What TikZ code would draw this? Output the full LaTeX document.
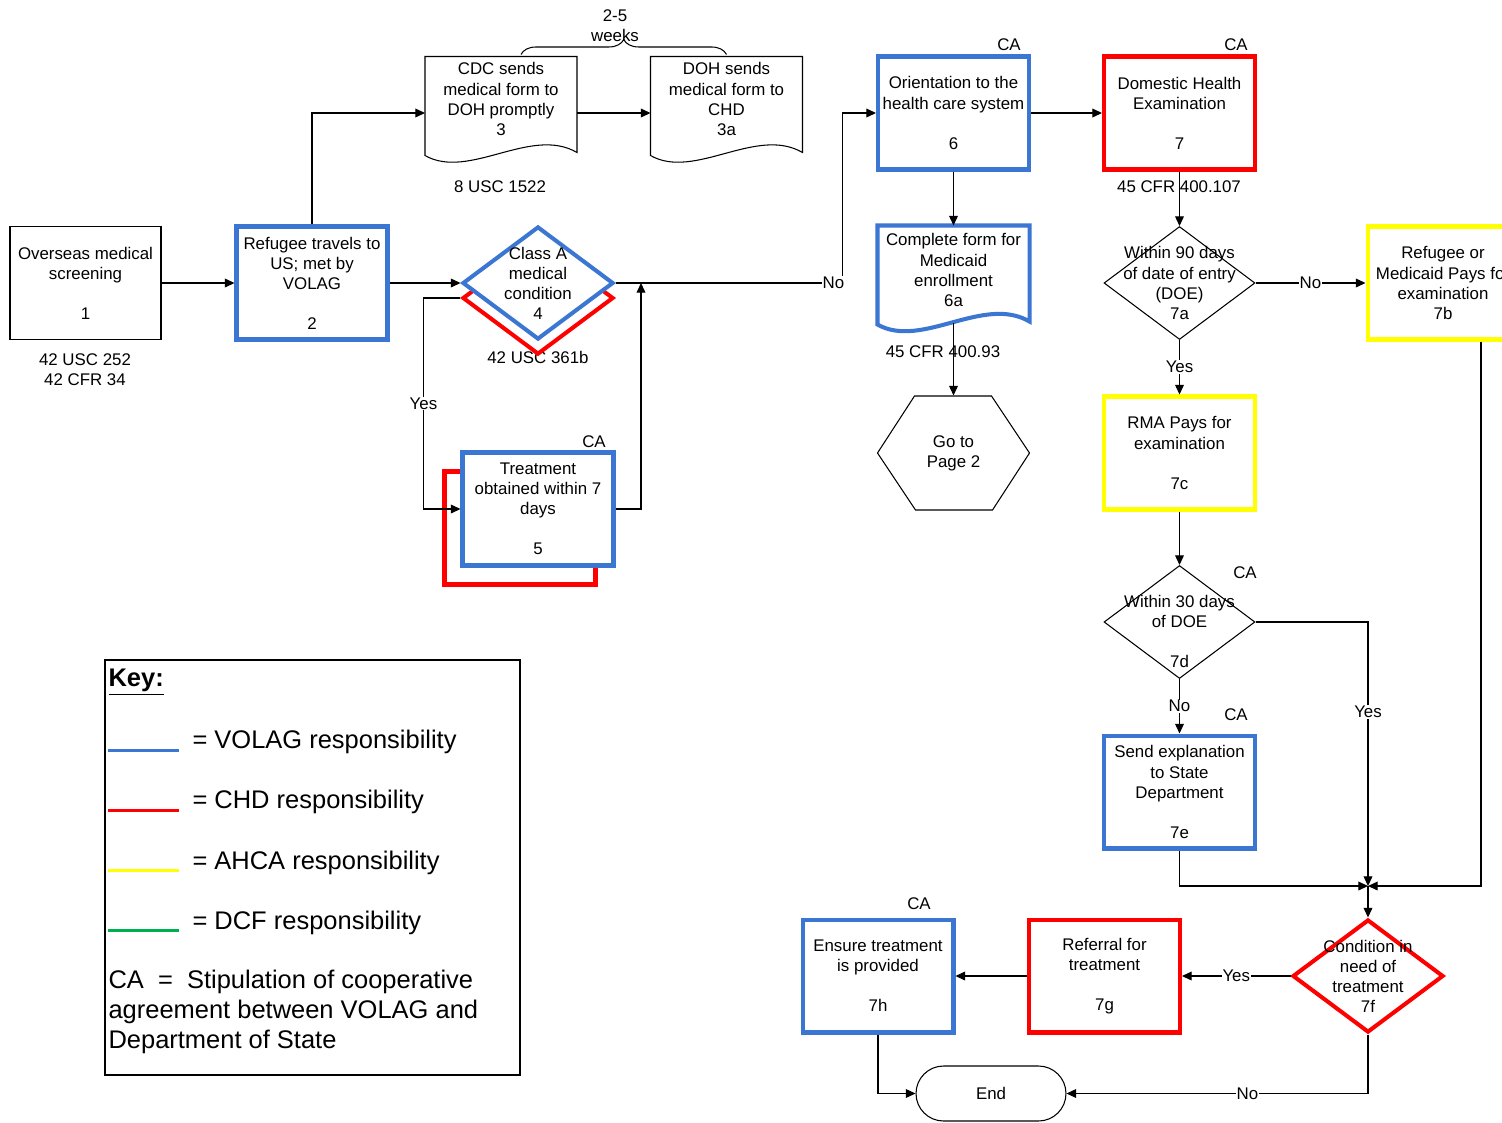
\documentclass[tikz,border=0pt]{standalone}
\usepackage{fontspec}
\setmainfont{Liberation Sans}
\usetikzlibrary{shapes.geometric,arrows.meta,decorations.pathreplacing,calc}

\definecolor{volagblue}{RGB}{58,118,210}
\definecolor{chdred}{RGB}{255,0,0}
\definecolor{ahcayellow}{RGB}{255,255,0}
\definecolor{dcfgreen}{RGB}{0,176,80}

\newcommand{\docoutline}[2]{%
  \draw[#2] (#1.north west) -- (#1.north east) -- ($(#1.south east)+(0,-17)$)
    .. controls ($(#1.south east)+(-46,-44)$) and ($(#1.south west)+(44,11)$) .. ($(#1.south west)+(0,-14)$) -- cycle;}

\begin{document}
\begin{tikzpicture}[x=0.02cm, y=-0.02cm, line width=0.6pt,
  every node/.style={font=\fontsize{9.6}{11.4}\selectfont, align=center},
  box/.style={rectangle, draw, minimum width=3.02cm, minimum height=2.26cm, inner sep=1pt},
  volag/.style={box, draw=volagblue, line width=2.3pt, fill=white},
  chd/.style={box, draw=chdred, line width=2.3pt, fill=white},
  ahca/.style={box, draw=ahcayellow, line width=2.3pt},
  dec/.style={diamond, draw, minimum width=3.02cm, minimum height=2.26cm, inner sep=-30pt},
  doc/.style={rectangle, minimum width=3.02cm, minimum height=2.24cm, inner sep=0pt},
  arr/.style={-{Triangle[length=5.5pt,width=5pt]}},
  lbl/.style={fill=white, inner sep=0.5pt},
  keytxt/.style={font=\fontsize{14.5}{17}\selectfont, inner sep=0pt, anchor=west, align=left}]

\path[use as bounding box, clip] (0,0) rectangle (1502,1123);
\fill[white] (0,0) rectangle (1502,1123);

% references under the boxes
\node (c1) at (85,369.5) {42 USC 252\\42 CFR 34};
\node (c3) at (500,187) {8 USC 1522};
\node (c4) at (538,357) {42 USC 361b};
\node (c6a) at (943,352) {45 CFR 400.93};
\node (c7) at (1179,187) {45 CFR 400.107};

% page one, left
\node[box] (n1) at (85.5,283) {Overseas medical\\screening\\[11.4pt]1};
\node[volag] (n2) at (312,283) {Refugee travels to\\US; met by\\VOLAG\\[11.4pt]2};
\node[doc, label={[yshift=0.28cm]center:{CDC sends\\medical form to\\DOH promptly\\3}}] (n3) at (501,113) {};
\node[doc, label={[yshift=0.28cm]center:{DOH sends\\medical form to\\CHD\\3a}}] (n3a) at (726.5,113) {};
\docoutline{n3}{black}
\docoutline{n3a}{black}
\node[dec, draw=chdred, line width=2.3pt] (n4r) at (538,298) {};
\node[dec, draw=volagblue, line width=2.3pt, fill=white] (n4) at (538,283) {Class A\\medical\\condition\\4};
\node[chd, fill=none] (n5r) at (520,528) {};
\node[volag] (n5) at (538,509) {Treatment\\obtained within 7\\days\\[11.4pt]5};
\coordinate (j1) at (641,283);

% page one, right
\node[volag] (n6) at (953.5,113) {Orientation to the\\health care system\\[11.4pt]6};
\node[doc, label={[yshift=0.24cm]center:{Complete form for\\Medicaid\\enrollment\\6a}}] (n6a) at (953.5,282) {};
\docoutline{n6a}{volagblue, line width=2.3pt}
\node[doc, minimum height=2.28cm] (n8) at (953.5,453) {Go to\\Page 2};
\draw (n8.west) -- ++(37,-57) -- ++(77,0) -- (n8.east) -- ++(-37,57) -- ++(-77,0) -- cycle;
\node[chd] (n7) at (1179.5,113) {Domestic Health\\Examination\\[11.4pt]7};
\node[dec] (n7a) at (1179.5,283) {Within 90 days\\of date of entry\\(DOE)\\7a};
\node[ahca] (n7b) at (1443,283) {Refugee or\\Medicaid Pays for\\examination\\7b};
\node[ahca] (n7c) at (1179.5,453) {RMA Pays for\\examination\\[11.4pt]7c};
\node[dec, label={[yshift=-0.19cm]center:{Within 30 days\\of DOE\\[11.4pt]7d}}] (n7d) at (1179.5,622) {};
\node[volag] (n7e) at (1179.5,792) {Send explanation\\to State\\Department\\[11.4pt]7e};
\coordinate (j2) at (1368,886);
\node[dec, draw=chdred, line width=2.3pt] (n7f) at (1368,976) {Condition in\\need of\\treatment\\7f};
\node[chd] (n7g) at (1104.5,976) {Referral for\\treatment\\[11.4pt]7g};
\node[volag] (n7h) at (878,976) {Ensure treatment\\is provided\\[11.4pt]7h};
\node[draw, rounded corners=0.55cm, minimum width=3cm, minimum height=1.1cm] (nend) at (991,1093.5) {End};

% CA marks
\node (ca5) at (594,442) {CA};
\node (ca6) at (1009,45) {CA};
\node (ca7) at (1236,45) {CA};
\node (ca7d) at (1245,573) {CA};
\node (ca7e) at (1236,715) {CA};
\node (ca7h) at (919,904) {CA};

\draw[decorate, decoration={brace, amplitude=0.3cm}] ([xshift=0.4cm, yshift=0.04cm]n3.north) -- ([yshift=0.04cm]n3a.north);
\node (weeks) at (615,25.5) {2-5\\weeks};

\draw[arr] (n1) -- (n2);
\draw[arr] (n2.north) |- (n3.west);
\draw[arr] (n3) -- (n3a);
\draw[arr] (n2) -- (n4);
\draw[arr] (n4.east) -- ++(227,0) node[lbl, pos=0.96] {No} |- (n6.west);
\draw[arr] (n4r.west) -- ++(-37,0) |- node[lbl, pos=0.25] {Yes} (n5.west);
\draw[arr] (n5.east) -| (j1);
\draw[arr] (n6) -- (n7);
\draw[arr] (n6) -- (n6a);
\draw[arr] ([yshift=0.32cm]n6a.south) -- (n8.north);
\draw[arr] (n7) -- (n7a);
\draw[arr] (n7a) -- node[lbl] {No} (n7b);
\draw[arr] (n7a) -- node[lbl] {Yes} (n7c);
\draw[arr] (n7c) -- (n7d);
\draw[arr] (n7d) -- node[lbl] {No} (n7e);
\draw[arr] (n7d.east) -| node[lbl, pos=0.67] {Yes} (j2);
\draw[arr] (n7e.south) |- (j2);
\draw[arr] ([xshift=0.76cm]n7b.south) |- (j2);
\draw[arr] (j2) -- (n7f.north);
\draw[arr] (n7f) -- node[lbl] {Yes} (n7g);
\draw[arr] (n7g) -- (n7h);
\draw[arr] (n7h.south) |- (nend.west);
\draw[arr] (n7f.south) |- node[lbl, pos=0.7] {No} (nend.east);

% key
\draw[line width=1.2pt] (105,660) rectangle (520,1075);
\node[keytxt] (keyhead) at (108,682) {\textbf{\underline{Key:}}};
\foreach \c/\t [count=\i] in {volagblue/VOLAG, chdred/CHD, ahcayellow/AHCA, dcfgreen/DCF} {
  \draw[\c, line width=1.7pt] (108,689.7+60.3*\i) -- (179,689.7+60.3*\i);
  \node[keytxt] (key\i) at (192,681.7+60.3*\i) {= \t\ responsibility};
}
\node[keytxt] (keyca) at (108,1012) {CA\ \ =\ \ Stipulation of cooperative\\agreement between VOLAG and\\Department of State};
\end{tikzpicture}
\end{document}
